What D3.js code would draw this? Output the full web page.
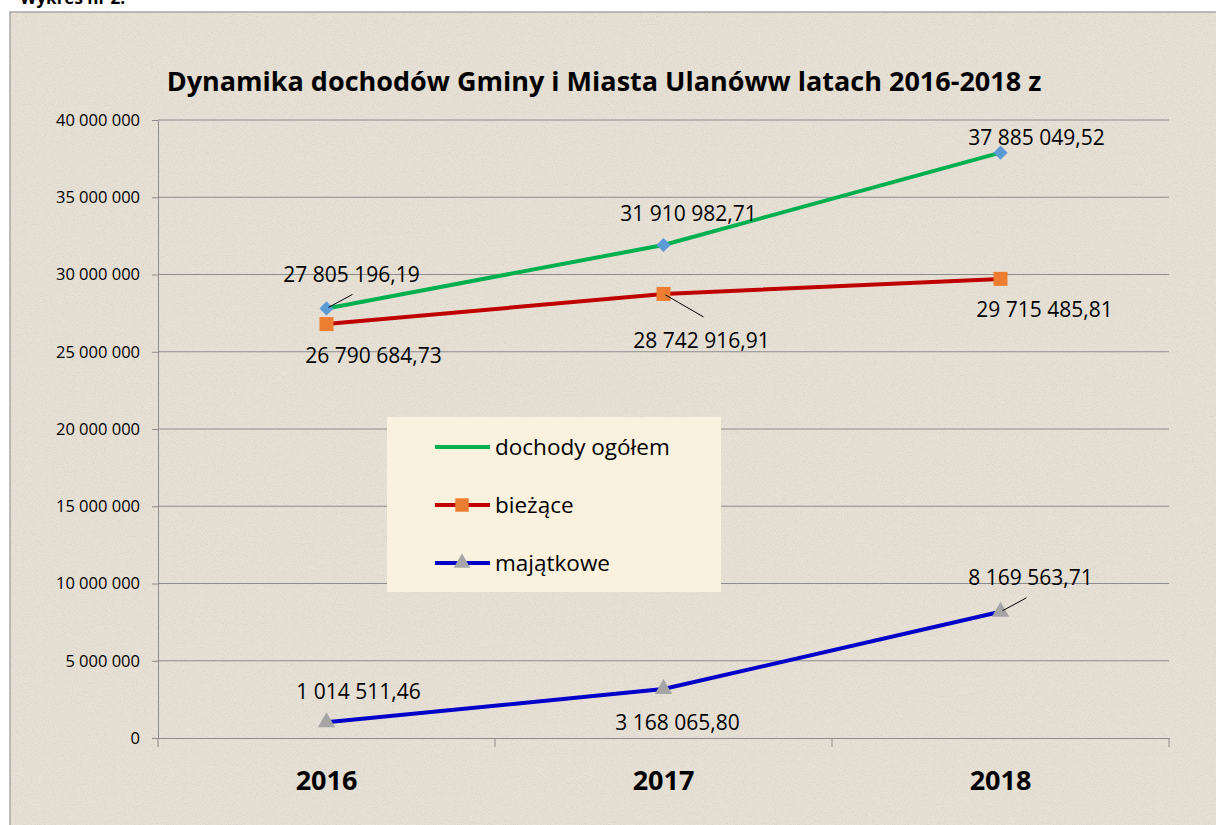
<!DOCTYPE html>
<html>
<head>
<meta charset="utf-8">
<script src="https://cdn.jsdelivr.net/npm/d3@7"></script>
<style>
  body { margin: 0; background: #ffffff; }
  svg { display: block; }
</style>
</head>
<body>
<div id="chart"></div>
<script>
// data
var years = ["2016", "2017", "2018"];
var dochodyOgolem = [27805196.19, 31910982.71, 37885049.52];
var biezace = [26790684.73, 28742916.91, 29715485.81];
var majatkowe = [1014511.46, 3168065.80, 8169563.71];
var yTicks = [0, 5000000, 10000000, 15000000, 20000000, 25000000, 30000000, 35000000, 40000000];
var seriesNames = ["dochody ogółem", "bieżące", "majątkowe"];
var chartTitle = "Dynamika dochodów Gminy i Miasta Ulanóww latach 2016-2018 z";
var pageCaption = "Wykres nr 2.";

var W = 1216, H = 825;
var margin = {left: 158, right: 47, top: 120, bottom: 87};
var font = "'Open Sans', 'Noto Sans', sans-serif";

var pl = d3.formatLocale({decimal: ",", thousands: " ", grouping: [3], currency: ["", ""]});
var fmtVal = pl.format(",.2f");
var fmtTick = pl.format(",.0f");

var svg = d3.select("#chart").append("svg")
	.attr("width", W)
	.attr("height", H);

var defs = svg.append("defs");
var f = defs.append("filter").attr("id", "speckle")
	.attr("x", 0).attr("y", 0).attr("width", "100%").attr("height", "100%");
f.append("feTurbulence")
	.attr("type", "fractalNoise")
	.attr("baseFrequency", 0.9)
	.attr("numOctaves", 2)
	.attr("seed", 7);
f.append("feColorMatrix")
	.attr("type", "matrix")
	.attr("values", "0 0 0 0 0.48  0 0 0 0 0.45  0 0 0 0 0.41  -2.4 0 0 0 1.3");

// page caption, cut off at the top
svg.append("text")
	.attr("x", 20).attr("y", 4)
	.attr("font-family", font)
	.attr("font-weight", "bold")
	.attr("font-size", "17px")
	.text(pageCaption);

// chart area with parchment background
svg.append("rect")
	.attr("x", 10).attr("y", 12)
	.attr("width", W + 10).attr("height", H + 10)
	.attr("fill", "#e7e0d5")
	.attr("stroke", "#a6a6a6")
	.attr("stroke-width", 1.5);
svg.append("rect")
	.attr("x", 11).attr("y", 13)
	.attr("width", W).attr("height", H)
	.attr("filter", "url(#speckle)")
	.attr("opacity", 0.3);

// scales
var x = d3.scaleBand()
	.domain(years)
	.range([margin.left, W - margin.right]);

var y = d3.scaleLinear()
	.domain([0, 40000000])
	.range([H - margin.bottom, margin.top]);

var cx = function(d) { return x(d) + x.bandwidth() / 2; };

// title
svg.append("text")
	.attr("x", 604)
	.attr("y", 91)
	.attr("text-anchor", "middle")
	.attr("font-family", font)
	.attr("font-weight", "bold")
	.attr("font-size", "27px")
	.attr("fill", "#000")
	.text(chartTitle);

// gridlines
svg.append("g")
	.selectAll("line")
	.data(yTicks.filter(function(d){ return d > 0; }))
	.enter().append("line")
		.attr("x1", margin.left)
		.attr("x2", W - margin.right)
		.attr("y1", function(d){ return y(d); })
		.attr("y2", function(d){ return y(d); })
		.attr("stroke", "#8c8c8c")
		.attr("stroke-width", 1);

// y axis
var yAxisCall = d3.axisLeft(y)
	.tickValues(yTicks)
	.tickSize(6)
	.tickPadding(12)
	.tickFormat(fmtTick);

var yAxis = svg.append("g")
	.attr("transform", "translate(" + margin.left + ",0)")
	.call(yAxisCall);
yAxis.selectAll("path, line").attr("stroke", "#8c8c8c");
yAxis.selectAll("text")
	.attr("font-family", font)
	.attr("font-size", "16.5px")
	.attr("fill", "#000");

// x axis
var xAxisCall = d3.axisBottom(x)
	.tickSize(0)
	.tickPadding(0)
	.tickFormat(function(d){ return d; });

var xAxis = svg.append("g")
	.attr("transform", "translate(0," + (H - margin.bottom) + ")")
	.call(xAxisCall);
xAxis.select(".domain").attr("stroke", "#8c8c8c");
xAxis.selectAll("text")
	.attr("y", 52)
	.attr("dy", 0)
	.attr("font-family", font)
	.attr("font-weight", "bold")
	.attr("font-size", "27px")
	.attr("fill", "#000");

// category boundary ticks
var bounds = years.map(function(d){ return x(d); }).concat([x(years[years.length - 1]) + x.bandwidth()]);
xAxis.selectAll(".bound")
	.data(bounds)
	.enter().append("line")
		.attr("class", "bound")
		.attr("x1", function(d){ return d; })
		.attr("x2", function(d){ return d; })
		.attr("y1", 0)
		.attr("y2", 9)
		.attr("stroke", "#8c8c8c");

// series, styles and label placement
var series = [
	{name: seriesNames[0], values: dochodyOgolem, color: "#00b050", marker: "diamond", fill: "#5b9bd5",
	 labels: [{dx: 25, dy: -26, leader: true}, {dx: 25, dy: -24}, {dx: 36, dy: -8}]},
	{name: seriesNames[1], values: biezace, color: "#c00000", marker: "square", fill: "#ed7d31",
	 labels: [{dx: 47, dy: 39}, {dx: 38, dy: 54, leader: true}, {dx: 44, dy: 38}]},
	{name: seriesNames[2], values: majatkowe, color: "#0000c8", marker: "triangle", fill: "#a5a5a5",
	 labels: [{dx: 32, dy: -23}, {dx: 14, dy: 41}, {dx: 30, dy: -27, leader: true}]}
];

var symbols = {
	diamond: d3.symbol().type(d3.symbolSquare).size(100),
	square: d3.symbol().type(d3.symbolSquare).size(196),
	triangle: d3.symbol().type(d3.symbolTriangle).size(130)
};

var line = d3.line()
	.x(function(d){ return cx(d.year); })
	.y(function(d){ return y(d.value); });

series.forEach(function(s) {
	var pts = years.map(function(yr, i){ return {year: yr, value: s.values[i], lab: s.labels[i]}; });
	var g = svg.append("g");

	g.append("path")
		.datum(pts)
		.attr("d", line)
		.attr("fill", "none")
		.attr("stroke", s.color)
		.attr("stroke-width", 4);

	g.selectAll(".mk")
		.data(pts)
		.enter().append("path")
			.attr("class", "mk")
			.attr("d", symbols[s.marker])
			.attr("fill", s.fill)
			.attr("transform", function(d){
				var r = s.marker == "diamond" ? " rotate(45)" : "";
				return "translate(" + cx(d.year) + "," + y(d.value) + ")" + r;
			});

	// leader lines
	g.selectAll(".leader")
		.data(pts.filter(function(d){ return d.lab.leader; }))
		.enter().append("line")
			.attr("x1", function(d){ return cx(d.year) + 2; })
			.attr("y1", function(d){ return y(d.value) + (d.lab.dy > 0 ? 1 : -1); })
			.attr("x2", function(d){ return cx(d.year) + (d.lab.dy > 0 ? 40 : 26); })
			.attr("y2", function(d){ return y(d.value) + (d.lab.dy > 0 ? 23 : -14); })
			.attr("stroke", "#000")
			.attr("stroke-width", 1);

	g.selectAll(".lab")
		.data(pts)
		.enter().append("text")
			.attr("class", "lab")
			.attr("x", function(d){ return cx(d.year) + d.lab.dx; })
			.attr("y", function(d){ return y(d.value) + d.lab.dy; })
			.attr("text-anchor", "middle")
			.attr("font-family", font)
			.attr("font-size", "21px")
			.attr("fill", "#000")
			.text(function(d){ return fmtVal(d.value); });
});

// legend
var legend = svg.append("g").attr("transform", "translate(387,417)");
legend.append("rect")
	.attr("width", 334)
	.attr("height", 175)
	.attr("fill", "#faf1de");

var li = legend.selectAll(".li")
	.data(series)
	.enter().append("g")
		.attr("class", "li")
		.attr("transform", function(d, i){ return "translate(48," + (30 + i * 58) + ")"; });

li.append("line")
	.attr("x1", 0).attr("x2", 55)
	.attr("stroke", function(d){ return d.color; })
	.attr("stroke-width", 4);

li.filter(function(d){ return d.marker != "diamond"; })
	.append("path")
		.attr("d", function(d){ return d.marker == "square"
			? d3.symbol().type(d3.symbolSquare).size(180)()
			: d3.symbol().type(d3.symbolTriangle).size(120)(); })
		.attr("fill", function(d){ return d.fill; })
		.attr("transform", "translate(27,0)");

li.append("text")
	.attr("x", 60)
	.attr("y", 8)
	.attr("font-family", font)
	.attr("font-size", "22.5px")
	.attr("fill", "#000")
	.text(function(d){ return d.name; });
</script>
</body>
</html>
